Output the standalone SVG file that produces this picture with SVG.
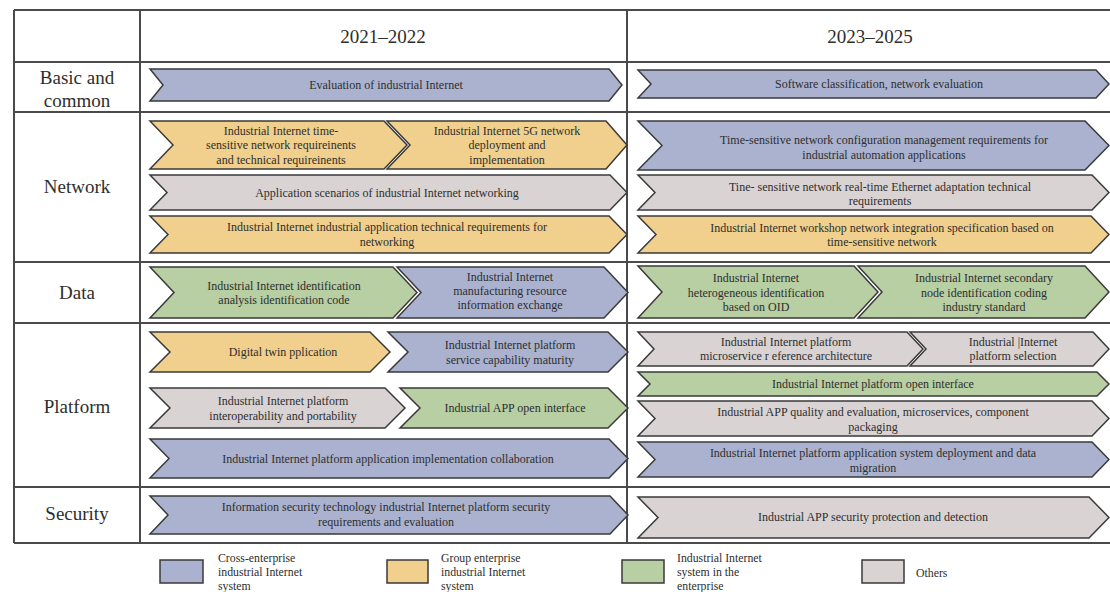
<svg xmlns="http://www.w3.org/2000/svg" width="1110" height="592" viewBox="0 0 1110 592">
<style>
.t{font-family:"Liberation Serif","Times New Roman",serif;fill:#2e2e2e;text-anchor:middle}
.s{font-size:12px}
.h{font-size:19px}
.l{font-family:"Liberation Serif","Times New Roman",serif;fill:#2e2e2e;font-size:11.8px}
.c{stroke:#3a3a3a;stroke-width:1.5;stroke-linejoin:miter}
.b{fill:#AAB2CF}.y{fill:#F0D08C}.g{fill:#B7CFA2}.o{fill:#D9D3D3}
.grid{stroke:#4a4a4a;stroke-width:2;fill:none}
</style>
<rect width="1110" height="592" fill="#FFFFFF"/>
<g id="table" class="grid">
<line x1="14" y1="10" x2="1110" y2="10"/>
<line x1="14" y1="62" x2="1110" y2="62"/>
<line x1="14" y1="112" x2="1110" y2="112"/>
<line x1="14" y1="262" x2="1110" y2="262"/>
<line x1="14" y1="323" x2="1110" y2="323"/>
<line x1="14" y1="487" x2="1110" y2="487"/>
<line x1="14" y1="543" x2="1110" y2="543"/>
<line x1="14" y1="10" x2="14" y2="543"/>
<line x1="140" y1="10" x2="140" y2="543"/>
<line x1="627" y1="10" x2="627" y2="543"/>
</g>
<g id="headers">
<text class="t h" x="383" y="43">2021–2022</text>
<text class="t h" x="870" y="43">2023–2025</text>
<text class="t h" x="77" y="84">Basic and</text>
<text class="t h" x="77" y="107">common</text>
<text class="t h" x="77" y="193">Network</text>
<text class="t h" x="77" y="299">Data</text>
<text class="t h" x="77" y="413">Platform</text>
<text class="t h" x="77" y="520">Security</text>
</g>
<g id="connectors"></g>
<g id="n1"><path class="c b" d="M150,69 H609 L622,85 L609,101 H150 L163,85 Z"/><text class="t s" x="386" y="89">Evaluation of industrial Internet</text></g>
<g id="n2"><path class="c b" d="M638,70 H1096 L1109,84 L1096,98 H638 L651,84 Z"/><text class="t s" x="879" y="88">Software classification, network evaluation</text></g>
<g id="n3"><path class="c y" d="M150,121 H384 L407,145 L384,169 H150 L173,145 Z"/><text class="t s" x="281" y="135">Industrial Internet time-</text><text class="t s" x="281" y="149">sensitive network requireinents</text><text class="t s" x="281" y="164">and technical requireinents</text></g>
<g id="n4"><path class="c y" d="M387,121 H606 L627,145 L606,169 H387 L410,145 Z"/><text class="t s" x="507" y="135">Industrial Internet 5G network</text><text class="t s" x="507" y="149">deployment and</text><text class="t s" x="507" y="164">implementation</text></g>
<g id="n5"><path class="c o" d="M150,175 H610 L627,192.5 L610,210 H150 L167,192.5 Z"/><text class="t s" x="387" y="197">Application scenarios of industrial Internet networking</text></g>
<g id="n6"><path class="c y" d="M150,216 H609 L627,234.5 L609,253 H150 L168,234.5 Z"/><text class="t s" x="387" y="231">Industrial Internet industrial application technical requirements for</text><text class="t s" x="387" y="246">networking</text></g>
<g id="n7"><path class="c b" d="M638,121 H1085 L1109,145.5 L1085,170 H638 L662,145.5 Z"/><text class="t s" x="884" y="144">Time-sensitive network configuration management requirements for</text><text class="t s" x="884" y="159">industrial automation applications</text></g>
<g id="n8"><path class="c o" d="M638,175 H1092 L1109,192.5 L1092,210 H638 L655,192.5 Z"/><text class="t s" x="880" y="191">Tine- sensitive network real-time Ethernet adaptation technical</text><text class="t s" x="880" y="205">requirements</text></g>
<g id="n9"><path class="c y" d="M638,216 H1091 L1109,234.5 L1091,253 H638 L656,234.5 Z"/><text class="t s" x="882" y="232">Industrial Internet workshop network integration specification based on</text><text class="t s" x="882" y="246">time-sensitive network</text></g>
<g id="n10"><path class="c g" d="M150,267 H393 L417,292.5 L393,318 H150 L174,292.5 Z"/><text class="t s" x="284" y="290">Industrial Internet identification</text><text class="t s" x="284" y="304">analysis identification code</text></g>
<g id="n11"><path class="c b" d="M397,267 H604 L628,292.5 L604,318 H397 L421,292.5 Z"/><text class="t s" x="510" y="281">Industrial Internet</text><text class="t s" x="510" y="295">manufacturing resource</text><text class="t s" x="510" y="309">information exchange</text></g>
<g id="n12"><path class="c g" d="M638,266 H854 L878,292 L854,318 H638 L662,292 Z"/><text class="t s" x="756" y="282">Industrial Internet</text><text class="t s" x="756" y="297">heterogeneous identification</text><text class="t s" x="756" y="311">based on OID</text></g>
<g id="n13"><path class="c g" d="M858,266 H1085 L1109,292 L1085,318 H858 L882,292 Z"/><text class="t s" x="984" y="282">Industrial Internet secondary</text><text class="t s" x="984" y="297">node identification coding</text><text class="t s" x="984" y="311">industry standard</text></g>
<g id="n14"><path class="c y" d="M150,332 H370 L390,352 L370,372 H150 L170,352 Z"/><text class="t s" x="283" y="356">Digital twin pplication</text></g>
<g id="n15"><path class="c b" d="M388,332 H608 L628,352 L608,372 H388 L408,352 Z"/><text class="t s" x="510" y="349">Industrial Internet platform</text><text class="t s" x="510" y="364">service capability maturity</text></g>
<g id="n16"><path class="c o" d="M150,388 H385 L405,408 L385,428 H150 L170,408 Z"/><text class="t s" x="283" y="405">Industrial Internet platform</text><text class="t s" x="283" y="420">interoperability and portability</text></g>
<g id="n17"><path class="c g" d="M400,388 H608 L628,408 L608,428 H400 L420,408 Z"/><text class="t s" x="515" y="412">Industrial APP open interface</text></g>
<g id="n18"><path class="c b" d="M150,439 H609 L628,458.5 L609,478 H150 L169,458.5 Z"/><text class="t s" x="388" y="463">Industrial Internet platform application implementation collaboration</text></g>
<g id="n19"><path class="c o" d="M638,332 H907 L923,349 L907,366 H638 L654,349 Z"/><text class="t s" x="786" y="346">Industrial Internet platform</text><text class="t s" x="786" y="360">microservice r eference architecture</text></g>
<g id="n20"><path class="c o" d="M910,332 H1093 L1109,349 L1093,366 H910 L926,349 Z"/><text class="t s" x="1013" y="346">Industrial |Internet</text><text class="t s" x="1013" y="360">platform selection</text></g>
<g id="n21"><path class="c g" d="M638,372 H1097 L1109,384 L1097,396 H638 L650,384 Z"/><text class="t s" x="873" y="388">Industrial Internet platform open interface</text></g>
<g id="n22"><path class="c o" d="M638,401 H1092 L1109,418.5 L1092,436 H638 L655,418.5 Z"/><text class="t s" x="873" y="416">Industrial APP quality and evaluation, microservices, component</text><text class="t s" x="873" y="431">packaging</text></g>
<g id="n23"><path class="c b" d="M638,442 H1092 L1109,459.5 L1092,477 H638 L655,459.5 Z"/><text class="t s" x="873" y="457">Industrial Internet platform application system deployment and data</text><text class="t s" x="873" y="472">migration</text></g>
<g id="n24"><path class="c b" d="M150,496 H610 L628,515 L610,534 H150 L168,515 Z"/><text class="t s" x="386" y="511">Information security technology industrial Internet platform security</text><text class="t s" x="386" y="526">requirements and evaluation</text></g>
<g id="n25"><path class="c o" d="M638,497 H1089 L1109,517.5 L1089,538 H638 L658,517.5 Z"/><text class="t s" x="873" y="521">Industrial APP security protection and detection</text></g>
<g id="legend">
<rect class="c b" x="160" y="560" width="43" height="23"/>
<text class="l" x="218" y="562">Cross-enterprise</text><text class="l" x="218" y="576">industrial Internet</text><text class="l" x="218" y="590">system</text>
<rect class="c y" x="387" y="560" width="41" height="23"/>
<text class="l" x="441" y="562">Group enterprise</text><text class="l" x="441" y="576">industrial Internet</text><text class="l" x="441" y="590">system</text>
<rect class="c g" x="622" y="560" width="42" height="23"/>
<text class="l" x="677" y="562">Industrial Internet</text><text class="l" x="677" y="576">system in the</text><text class="l" x="677" y="590">enterprise</text>
<rect class="c o" x="862" y="560" width="42" height="23"/>
<text class="l" x="916" y="577">Others</text>
</g>
</svg>
